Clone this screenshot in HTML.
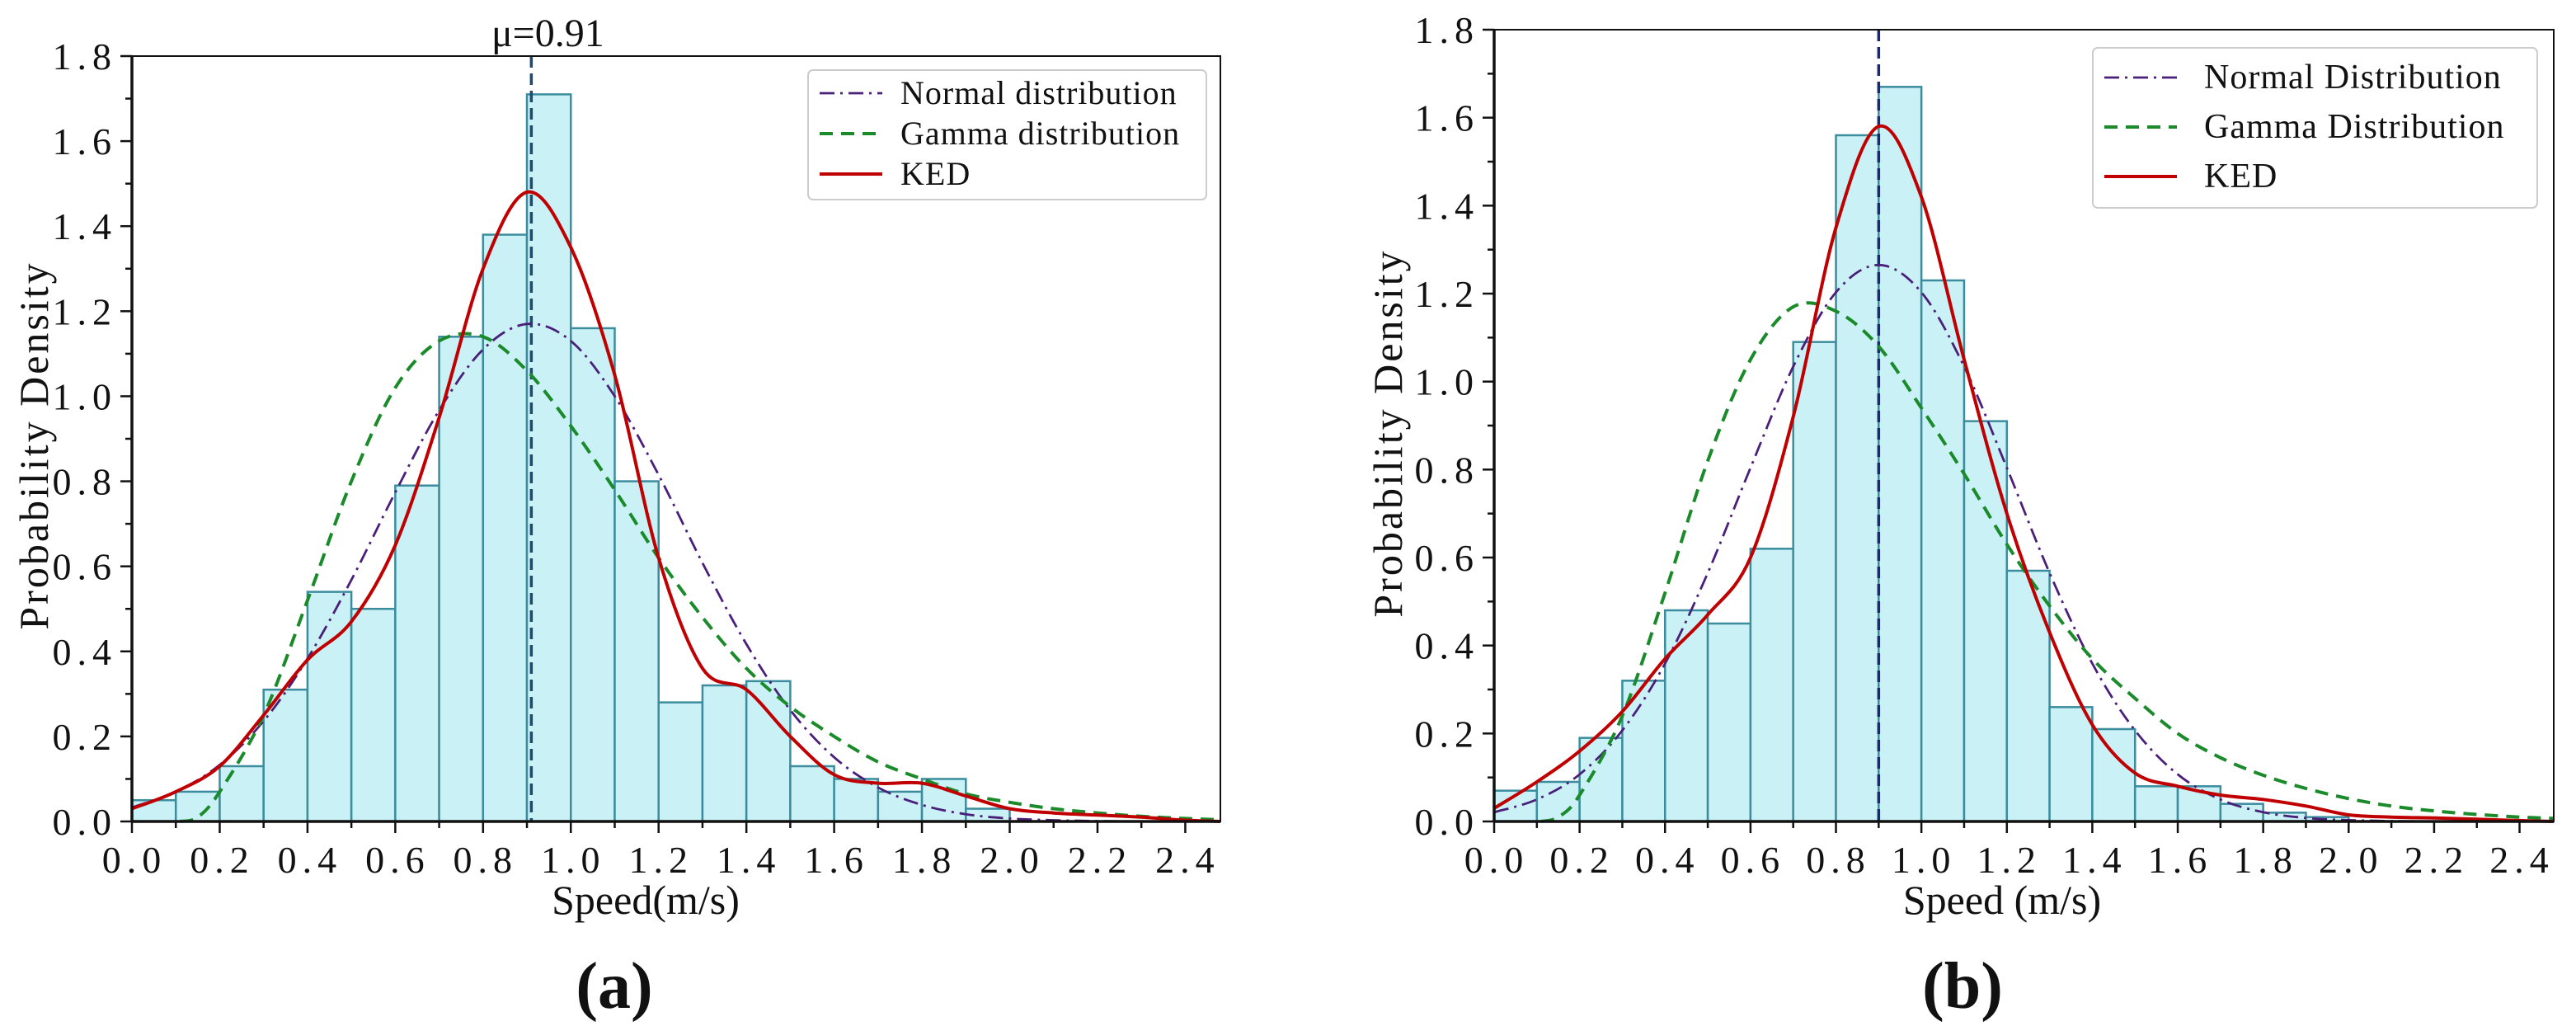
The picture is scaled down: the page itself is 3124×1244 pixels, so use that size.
<!DOCTYPE html>
<html><head><meta charset="utf-8"><style>
html,body{margin:0;padding:0;background:#fff}
svg{display:block}
text{font-family:"Liberation Serif",serif;fill:#111}
</style></head><body>
<svg id="svg" width="3124" height="1244" viewBox="0 0 3124 1244" xmlns="http://www.w3.org/2000/svg"></svg>
<script>
// ---------- Data ----------
const binStarts = [0,0.1,0.2,0.3,0.4,0.5,0.6,0.7,0.8,0.9,1.0,1.1,1.2,1.3,1.4,1.5,1.6,1.7,1.8,1.9];
const histA = [0.05,0.07,0.13,0.31,0.54,0.50,0.79,1.14,1.38,1.71,1.16,0.80,0.28,0.32,0.33,0.13,0.10,0.07,0.10,0.03];
const histB = [0.07,0.09,0.19,0.32,0.48,0.45,0.62,1.09,1.56,1.67,1.23,0.91,0.57,0.26,0.21,0.08,0.08,0.04,0.02,0.01];
const curveX = [0,0.1,0.2,0.3,0.4,0.5,0.6,0.7,0.8,0.9,1.0,1.1,1.2,1.3,1.4,1.5,1.6,1.7,1.8,1.9,2.0,2.1,2.2,2.3,2.4,2.5];
const gammaX = [0.11,0.15,0.2,0.3,0.4,0.5,0.6,0.7,0.8,0.9,1.0,1.1,1.2,1.3,1.4,1.5,1.6,1.7,1.8,1.9,2.0,2.1,2.2,2.3,2.4,2.5];
const normalA = [0.033,0.07,0.133,0.236,0.383,0.568,0.774,0.967,1.11,1.17,1.13,1.00,0.815,0.608,0.417,0.262,0.151,0.08,0.039,0.017,0.007,0.003,0.001,0,0,0];
const gammaA = [0,0.01,0.07,0.25,0.52,0.8,1.02,1.13,1.14,1.06,0.93,0.78,0.62,0.48,0.36,0.27,0.2,0.14,0.1,0.065,0.045,0.03,0.02,0.012,0.007,0.004];
const kedA = [0.03,0.07,0.13,0.25,0.38,0.47,0.65,0.95,1.3,1.48,1.35,1.05,0.62,0.36,0.31,0.2,0.11,0.09,0.09,0.06,0.03,0.02,0.015,0.01,0.003,0];
const normalB = [0.021,0.05,0.107,0.207,0.359,0.565,0.804,1.034,1.203,1.265,1.203,1.034,0.804,0.565,0.359,0.207,0.107,0.05,0.021,0.008,0.003,0.001,0,0,0,0];
const gammaB = [0,0.01,0.06,0.24,0.52,0.82,1.05,1.17,1.16,1.08,0.94,0.79,0.63,0.49,0.37,0.28,0.2,0.145,0.105,0.075,0.052,0.035,0.024,0.016,0.01,0.007];
const kedB = [0.03,0.09,0.16,0.25,0.37,0.47,0.6,0.92,1.35,1.58,1.42,1.05,0.7,0.43,0.22,0.11,0.08,0.06,0.05,0.035,0.015,0.01,0.008,0.005,0.002,0];
const xTicks = ["0.0","0.2","0.4","0.6","0.8","1.0","1.2","1.4","1.6","1.8","2.0","2.2","2.4"];
const yTicks = ["0.0","0.2","0.4","0.6","0.8","1.0","1.2","1.4","1.6","1.8"];
const meanA = 0.91, meanB = 0.9;

const NS="http://www.w3.org/2000/svg";
const svg=document.getElementById('svg');
function el(tag,attrs,parent){const e=document.createElementNS(NS,tag);for(const k in attrs)e.setAttribute(k,attrs[k]);(parent||svg).appendChild(e);return e;}
function smoothPath(pts){
  let d=`M${pts[0][0]},${pts[0][1]}`;
  for(let i=0;i<pts.length-1;i++){
    const p0=pts[Math.max(0,i-1)],p1=pts[i],p2=pts[i+1],p3=pts[Math.min(pts.length-1,i+2)];
    const c1x=p1[0]+(p2[0]-p0[0])/6,c1y=p1[1]+(p2[1]-p0[1])/6;
    const c2x=p2[0]-(p3[0]-p1[0])/6,c2y=p2[1]-(p3[1]-p1[1])/6;
    d+=` C${c1x.toFixed(1)},${c1y.toFixed(1)} ${c2x.toFixed(1)},${c2y.toFixed(1)} ${p2[0].toFixed(1)},${p2[1].toFixed(1)}`;
  }
  return d;
}

function panel(cfg){
  const g=el('g',{});
  
  
  const {x0,x1,y0,y1,xmax}=cfg;
  const sx=v=>x0+v/xmax*(x1-x0);
  const sy=v=>y0-v/1.8*(y0-y1);
  cfg.hist.forEach((h,i)=>{
    const r=el('rect',{x:sx(binStarts[i]),y:sy(h),width:sx(binStarts[i]+0.1)-sx(binStarts[i]),height:y0-sy(h),fill:'#c9f1f6',stroke:'#3b8d9e','stroke-width':2.5},g);
    
    
  });
  const ml=el('line',{x1:sx(cfg.mean),x2:sx(cfg.mean),y1:y1,y2:y0,stroke:cfg.meanColor,'stroke-width':3.5,'stroke-dasharray':'14,7'},g);
  
  
  const curves=[
    {xs:curveX,ys:cfg.normal,color:'#4a1f7a',dash:'18,7,3,7',w:2.8,name:'normal-curve'},
    {xs:gammaX,ys:cfg.gamma,color:'#1a8a2a',dash:'16,10',w:4,name:'gamma-curve'},
    {xs:curveX,ys:cfg.ked,color:'#c00000',dash:'',w:4,name:'ked-curve'}];
  curves.forEach(c=>{
    const pts=c.xs.map((x,i)=>[sx(Math.min(x,xmax)),sy(c.ys[i])]).filter((p,i)=>c.xs[i]<=xmax+0.05);
    const p=el('path',{d:smoothPath(pts),fill:'none',stroke:c.color,'stroke-width':c.w,'stroke-dasharray':c.dash},g);
    
    
  });
  const fr=el('rect',{x:x0,y:y1,width:x1-x0,height:y0-y1,fill:'none',stroke:'#111','stroke-width':2},g);
  
  
  el('line',{x1:x0,x2:x0,y1:y1,y2:y0+1,stroke:'#111','stroke-width':3.5},g);
  el('line',{x1:x0-1,x2:x1,y1:y0,y2:y0,stroke:'#111','stroke-width':3.5},g);
  for(let i=0;i<=24;i++){
    const v=i*0.1; const x=sx(v); const major=i%2===0;
    el('line',{x1:x,x2:x,y1:y0,y2:y0+(major?14:8),stroke:'#111','stroke-width':2.5},g);
  }
  xTicks.forEach((t,i)=>{
    const tx=el('text',{x:sx(i*0.2)+3,y:y0+62,'text-anchor':'middle','font-size':46,'letter-spacing':7},g);
    tx.textContent=t;
    
    
  });
  for(let i=0;i<=18;i++){
    const y=sy(i*0.1); const major=i%2===0;
    el('line',{x1:x0,x2:x0-(major?14:8),y1:y,y2:y,stroke:'#111','stroke-width':2.5},g);
  }
  yTicks.forEach((t,i)=>{
    const tx=el('text',{x:x0-18,y:sy(i*0.2)+16,'text-anchor':'end','font-size':46,'letter-spacing':7},g);
    tx.textContent=t;
    
    
  });
  const yl=el('text',{x:0,y:0,'text-anchor':'middle','font-size':50,'letter-spacing':3,transform:`translate(${cfg.ylx},${cfg.yly}) rotate(-90)`},g);
  yl.textContent='Probability Density';
  
  
  const xl=el('text',{x:cfg.xlx,y:cfg.xly,'text-anchor':'middle','font-size':50},g);
  xl.textContent=cfg.xlabel;
  
  
  const pl=el('text',{x:cfg.plx,y:1222,'text-anchor':'middle','font-size':80,'font-weight':'bold'},g);
  pl.textContent=cfg.panelLabel;
  
  
  const L=cfg.legend;
  const lg=el('g',{},g);
  
  
  el('rect',{x:L.x,y:L.y,width:L.w,height:L.h,rx:6,fill:'#fff','fill-opacity':0.9,stroke:'#ccc','stroke-width':2},lg);
  L.labels.forEach((t,i)=>{
    const c=curves[i]; const yy=L.y+L.first+i*L.step;
    el('line',{x1:L.x+14,x2:L.x+14+L.lineLen,y1:yy,y2:yy,stroke:c.color,'stroke-width':c.w,'stroke-dasharray':c.dash},lg);
    const tx=el('text',{x:L.x+L.textOff,y:yy+13,'font-size':L.fs,'letter-spacing':1},lg);
    tx.textContent=t;
    
    
  });
  return {sx,sy};
}

const a=panel({name:'panel-a',x0:160,x1:1480,y0:996,y1:68,xmax:2.48,hist:histA,normal:normalA,gamma:gammaA,ked:kedA,mean:meanA,meanColor:'#1d4a6e',
  ylx:58,yly:540,xlx:783,xly:1108,xlabel:'Speed(m/s)',plx:745,panelLabel:'(a)',
  legend:{x:980,y:85,w:483,h:157,first:28,step:49,lineLen:76,textOff:112,fs:40,labels:['Normal distribution','Gamma distribution','KED']}});
const mu=el('text',{x:a.sx(meanA)+20,y:56,'text-anchor':'middle','font-size':48});
mu.textContent='μ=0.91';



panel({name:'panel-b',x0:1812,x1:3097,y0:996,y1:36,xmax:2.48,hist:histB,normal:normalB,gamma:gammaB,ked:kedB,mean:meanB,meanColor:'#1a2a6e',
  ylx:1700,yly:525,xlx:2428,xly:1108,xlabel:'Speed (m/s)',plx:2380,panelLabel:'(b)',
  legend:{x:2538,y:58,w:539,h:194,first:36,step:60,lineLen:88,textOff:135,fs:42,labels:['Normal Distribution','Gamma Distribution','KED']}});
</script>
</body></html>
